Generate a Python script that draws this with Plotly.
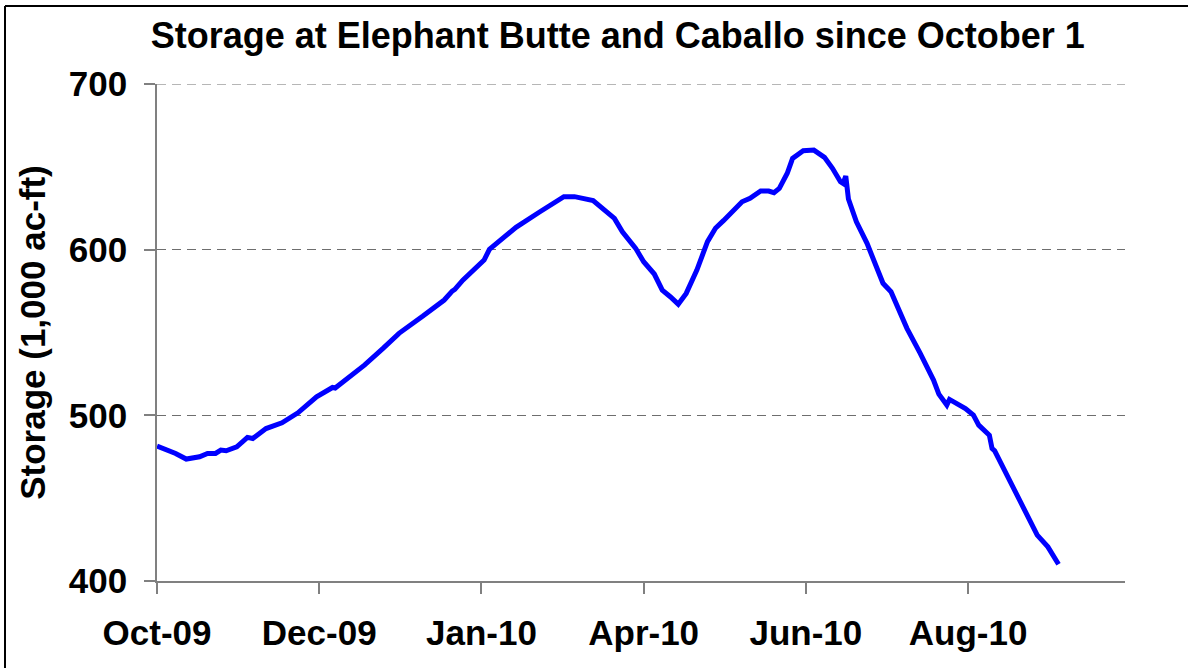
import plotly.graph_objects as go

dates = [
    "2009-10-01", "2009-10-06", "2009-10-08", "2009-10-12", "2009-10-17", "2009-10-20",
    "2009-10-23", "2009-10-25", "2009-10-27", "2009-10-31", "2009-11-02", "2009-11-04",
    "2009-11-06", "2009-11-11", "2009-11-17", "2009-11-23", "2009-11-30", "2009-12-03",
    "2009-12-06", "2009-12-07", "2009-12-13", "2009-12-18", "2009-12-25", "2009-12-31",
    "2010-01-09", "2010-01-17", "2010-01-20", "2010-01-21", "2010-01-24", "2010-02-01",
    "2010-02-03", "2010-02-13", "2010-02-22", "2010-02-26", "2010-03-03", "2010-03-07",
    "2010-03-10", "2010-03-14", "2010-03-22", "2010-03-25", "2010-03-30", "2010-04-02",
    "2010-04-06", "2010-04-09", "2010-04-12", "2010-04-15", "2010-04-18", "2010-04-22",
    "2010-04-26", "2010-04-29", "2010-05-02", "2010-05-06", "2010-05-09", "2010-05-12",
    "2010-05-16", "2010-05-19", "2010-05-21", "2010-05-23", "2010-05-26", "2010-05-28",
    "2010-06-01", "2010-06-05", "2010-06-09", "2010-06-12", "2010-06-15", "2010-06-16",
    "2010-06-17", "2010-06-18", "2010-06-21", "2010-06-25", "2010-06-29", "2010-07-01",
    "2010-07-04", "2010-07-10", "2010-07-15", "2010-07-20", "2010-07-22", "2010-07-25",
    "2010-07-26", "2010-08-01", "2010-08-04", "2010-08-06", "2010-08-10", "2010-08-11",
    "2010-08-12", "2010-08-18", "2010-08-22", "2010-08-28", "2010-09-01", "2010-09-05",
]

storage = [
    481.4, 478.4, 477.0, 473.6, 475.0, 477.0,
    477.0, 479.0, 478.6, 481.0, 483.4, 486.7,
    486.0, 492.0, 495.5, 501.5, 511.2, 513.6,
    516.8, 516.5, 524.3, 530.3, 540.4, 549.5,
    559.9, 569.6, 575.0, 576.0, 581.6, 593.7,
    600.2, 613.5, 622.9, 626.9, 632.0, 632.0,
    631.0, 629.6, 618.9, 610.8, 600.8, 592.7,
    585.3, 575.6, 571.6, 567.1, 573.6, 587.7,
    604.8, 612.9, 617.5, 624.3, 628.9, 631.0,
    635.4, 635.4, 634.4, 637.0, 646.1, 655.1,
    659.7, 660.1, 655.7, 649.1, 641.0, 640.0,
    644.4, 630.6, 616.8, 603.8, 586.7, 579.7,
    574.6, 552.5, 537.4, 521.3, 512.8, 506.2,
    509.6, 504.1, 500.1, 494.1, 488.0, 480.0,
    478.6, 458.9, 445.8, 427.7, 420.6, 410.1,
]

tick_dates = ["2009-10-01", "2009-12-01", "2010-01-31", "2010-04-02", "2010-06-02", "2010-08-02"]
tick_labels = ["Oct-09", "Dec-09", "Jan-10", "Apr-10", "Jun-10", "Aug-10"]
y_ticks = [400, 500, 600, 700]
y_tick_labels = ["400", "500", "600", "700"]
y_range = [400, 700]
x_range = ["2009-10-01", "2010-09-30"]

title_text = "Storage at Elephant Butte and Caballo since October 1"
y_title = "Storage (1,000 ac-ft)"

FONT = "Liberation Sans, Arial, sans-serif"
GRID = "#6e6e6e"

fig = go.Figure()
fig.add_trace(go.Scatter(
    x=dates, y=storage, mode="lines",
    line=dict(color="#0000FF", width=5),
    showlegend=False,
))

fig.update_layout(
    width=1188, height=668,
    margin=dict(l=157, r=63, t=84, b=87),
    paper_bgcolor="white", plot_bgcolor="white",
    font=dict(family=FONT, color="black", weight="bold"),
    title=dict(
        text=title_text,
        x=0.52, xanchor="center", y=0.947, yanchor="middle",
        font=dict(size=36, family=FONT, color="black", weight="bold"),
    ),
    xaxis=dict(
        type="date",
        range=x_range,
        tickmode="array", tickvals=tick_dates, ticktext=tick_labels,
        tickfont=dict(size=35, family=FONT, color="black", weight="bold"),
        ticks="outside", ticklen=11, tickwidth=1.5, tickcolor="#808080",
        showline=True, linecolor="#808080", linewidth=1.5,
        showgrid=False, zeroline=False,
        ticklabelstandoff=9,
    ),
    yaxis=dict(
        range=y_range,
        tickmode="array", tickvals=y_ticks, ticktext=y_tick_labels,
        tickfont=dict(size=35, family=FONT, color="black", weight="bold"),
        ticks="outside", ticklen=11, tickwidth=1.5, tickcolor="#808080",
        showline=True, linecolor="#808080", linewidth=1.5,
        showgrid=True, gridcolor=GRID, gridwidth=1.2, griddash="9px,6px",
        zeroline=False, ticklabelstandoff=10,
        title=dict(text=y_title, font=dict(size=35, family=FONT, color="black", weight="bold"), standoff=13),
    ),
)

# top gridline (plotly omits the gridline at the range edge)
fig.add_shape(type="line", xref="paper", yref="y",
              x0=0, x1=1, y0=y_ticks[-1], y1=y_ticks[-1],
              line=dict(color=GRID, width=1.2, dash="9px,6px"), layer="below")

# outer chart-area border (only left and top edges fall inside the picture)
fig.add_shape(type="line", xref="paper", yref="paper",
              x0=(5 - 157) / 968, x1=(5 - 157) / 968, y0=(581 - 6) / 497, y1=(581 - 700) / 497,
              line=dict(color="black", width=2))
fig.add_shape(type="line", xref="paper", yref="paper",
              x0=(5 - 157) / 968, x1=(1250 - 157) / 968, y0=(581 - 6) / 497, y1=(581 - 6) / 497,
              line=dict(color="black", width=2))

fig.write_html("out.html", config={"displayModeBar": False},
               post_script="document.body.style.margin='0px';")
